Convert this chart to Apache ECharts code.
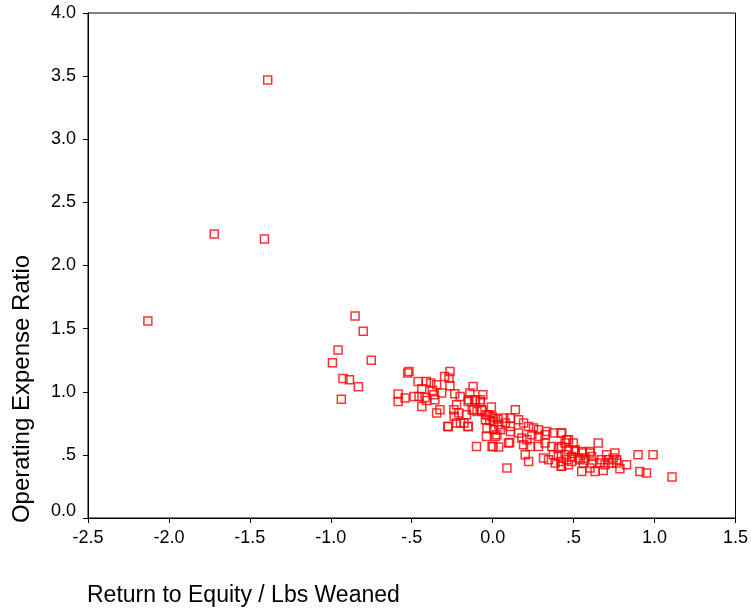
<!DOCTYPE html>
<html>
<head>
<meta charset="utf-8">
<script src="https://cdn.jsdelivr.net/npm/echarts@6/dist/echarts.min.js"></script>
<style>
html,body{margin:0;padding:0;background:#fff;}
#chart{width:751px;height:609px;}
</style>
</head>
<body>
<div id="chart"></div>
<script>
// Return to Equity / Lbs Weaned
var returnToEquity = [
  -1.39, -1.72, -1.41, -2.13,
  -0.85, -0.80, -0.955, -0.99, -0.75, -0.925, -0.885, -0.83, -0.935,
  -0.517, -0.525, -0.584, -0.584, -0.541, -0.461, -0.410, -0.383, -0.346, -0.297, -0.264, -0.270,
  -0.438, -0.373, -0.264, -0.315, -0.486, -0.455, -0.418, -0.363, -0.357, -0.408, -0.438, -0.326,
  -0.346, -0.234, -0.201, -0.223, -0.240, -0.209, -0.238, -0.277, -0.223, -0.199, -0.152, -0.162,
  -0.121, -0.141, -0.147, -0.106, -0.076, -0.061, -0.117, -0.069, -0.008, -0.039, 0.006, -0.018,
  -0.039, 0.017, -0.100, 0.002,
  -0.152, -0.111, -0.076, -0.127, -0.097, -0.066, 0.140, -0.029, -0.004, 0.033, -0.045, 0.068,
  0.109, -0.178, -0.152, -0.275, 0.160, 0.191, 0.006, 0.037, 0.078, 0.109, -0.035, 0.006,
  0.222, 0.252, 0.283, 0.047, 0.109, 0.160, 0.026, 0.098, 0.180, 0.211, 0.242, 0.283,
  0.324, 0.334, 0.375, 0.426, 0.468, 0.447, 0.191, 0.232, 0.283, 0.324, 0.365, 0.406,
  -0.004, 0.037, 0.105, 0.201, 0.222, 0.314, 0.345, 0.375, 0.406, 0.447, 0.488, 0.509,
  0.550, 0.601, 0.540, 0.571, 0.612, 0.386, 0.426, 0.550, 0.632, 0.088, 0.652,
  0.423, 0.457, 0.498, 0.426, 0.468, 0.509, 0.550, 0.601, 0.704, 0.755, 0.673, 0.714,
  0.745, 0.766, 0.663, 0.694, 0.734, 0.766, 0.423, 0.457, 0.488, 0.529, 0.423, 0.468,
  0.560, 0.612, 0.601, 0.683, 0.786, 0.827, 0.898, 0.991, 0.909, 0.950, 1.108
];
// Operating Expense Ratio
var operatingExpenseRatio = [
  3.47, 2.25, 2.21, 1.56,
  1.60, 1.48, 1.33, 1.23, 1.25, 1.105, 1.095, 1.04, 0.94,
  1.161, 1.148, 0.982, 0.923, 0.950, 1.082, 1.082, 1.069, 1.055, 1.121, 1.161, 1.108,
  1.024, 1.010, 1.048, 0.990, 0.963, 0.963, 0.955, 0.976, 0.937, 0.931, 0.884, 0.857,
  0.831, 0.984, 0.963, 0.897, 0.857, 0.831, 0.805, 0.725, 0.752, 0.752, 0.725, 0.818,
  1.042, 0.990, 0.937, 0.937, 0.937, 0.976, 0.857, 0.857, 0.879, 0.818, 0.792, 0.773,
  0.646, 0.646, 0.567, 0.567,
  0.923, 0.937, 0.923, 0.857, 0.844, 0.852, 0.857, 0.818, 0.804, 0.784, 0.778, 0.792,
  0.792, 0.752, 0.725, 0.725, 0.778, 0.752, 0.765, 0.739, 0.752, 0.725, 0.713, 0.699,
  0.725, 0.713, 0.699, 0.699, 0.686, 0.673, 0.660, 0.594, 0.633, 0.620, 0.660, 0.646,
  0.660, 0.686, 0.673, 0.673, 0.620, 0.594, 0.580, 0.567, 0.567, 0.594, 0.567, 0.554,
  0.567, 0.562, 0.599, 0.501, 0.448, 0.475, 0.462, 0.501, 0.488, 0.501, 0.488, 0.541,
  0.527, 0.527, 0.462, 0.475, 0.488, 0.435, 0.409, 0.369, 0.369, 0.396, 0.594,
  0.673, 0.620, 0.594, 0.567, 0.541, 0.527, 0.515, 0.515, 0.501, 0.515, 0.462, 0.462,
  0.475, 0.462, 0.435, 0.422, 0.435, 0.435, 0.448, 0.462, 0.448, 0.475, 0.409, 0.422,
  0.435, 0.435, 0.396, 0.377, 0.390, 0.422, 0.501, 0.501, 0.369, 0.356, 0.325
];
var xTickLabels = ['-2.5', '-2.0', '-1.5', '-1.0', '-.5', '0.0', '.5', '1.0', '1.5'];
var yTickLabels = ['0.0', '.5', '1.0', '1.5', '2.0', '2.5', '3.0', '3.5', '4.0'];
var xTitle = 'Return to Equity / Lbs Weaned';
var yTitle = 'Operating Expense Ratio';

var FONT = '"Liberation Sans", Arial, sans-serif';
var points = returnToEquity.map(function (x, i) { return [x, operatingExpenseRatio[i]]; });

var chart = echarts.init(document.getElementById('chart'), null, { renderer: 'canvas' });
chart.setOption({
  animation: false,
  backgroundColor: '#fff',
  grid: { left: 88, right: 14, top: 13, bottom: 91, show: true, borderColor: '#000', borderWidth: 1, backgroundColor: 'transparent' },
  xAxis: {
    type: 'value', min: -2.5, max: 1.5, interval: 0.5,
    axisLine: { show: true, onZero: false, lineStyle: { color: '#000', width: 1 } },
    axisTick: { show: true, length: 5, lineStyle: { color: '#000' } },
    splitLine: { show: false },
    axisLabel: {
      margin: 11, color: '#000', fontSize: 18, fontFamily: FONT,
      formatter: function (v) { return xTickLabels[Math.round((v + 2.5) / 0.5)]; }
    }
  },
  yAxis: {
    type: 'value', min: 0, max: 4, interval: 0.5,
    axisLine: { show: true, onZero: false, lineStyle: { color: '#000', width: 1 } },
    axisTick: { show: true, length: 5, lineStyle: { color: '#000' } },
    splitLine: { show: false },
    axisLabel: {
      margin: 12, color: '#000', fontSize: 18, fontFamily: FONT,
      formatter: function (v) {
        var s = yTickLabels[Math.round(v / 0.5)];
        return v === 0 ? '{z|' + s + '}' : s;
      },
      rich: { z: { fontSize: 18, fontFamily: FONT, color: '#000', padding: [0, 0, 14, 0] } }
    }
  },
  graphic: [
    { type: 'text', left: 87, top: 584, style: { text: xTitle, fill: '#000', font: '23px ' + FONT } },
    { type: 'text', x: 22, y: 389, rotation: Math.PI / 2,
      style: { text: yTitle, fill: '#000', font: '24px ' + FONT, textAlign: 'center', textVerticalAlign: 'middle' } }
  ],
  series: [{
    type: 'scatter',
    data: points,
    symbol: 'rect',
    symbolSize: 8,
    itemStyle: { color: 'rgba(0,0,0,0)', borderColor: '#ff0000', borderWidth: 1.5 }
  }]
});
</script>
</body>
</html>
